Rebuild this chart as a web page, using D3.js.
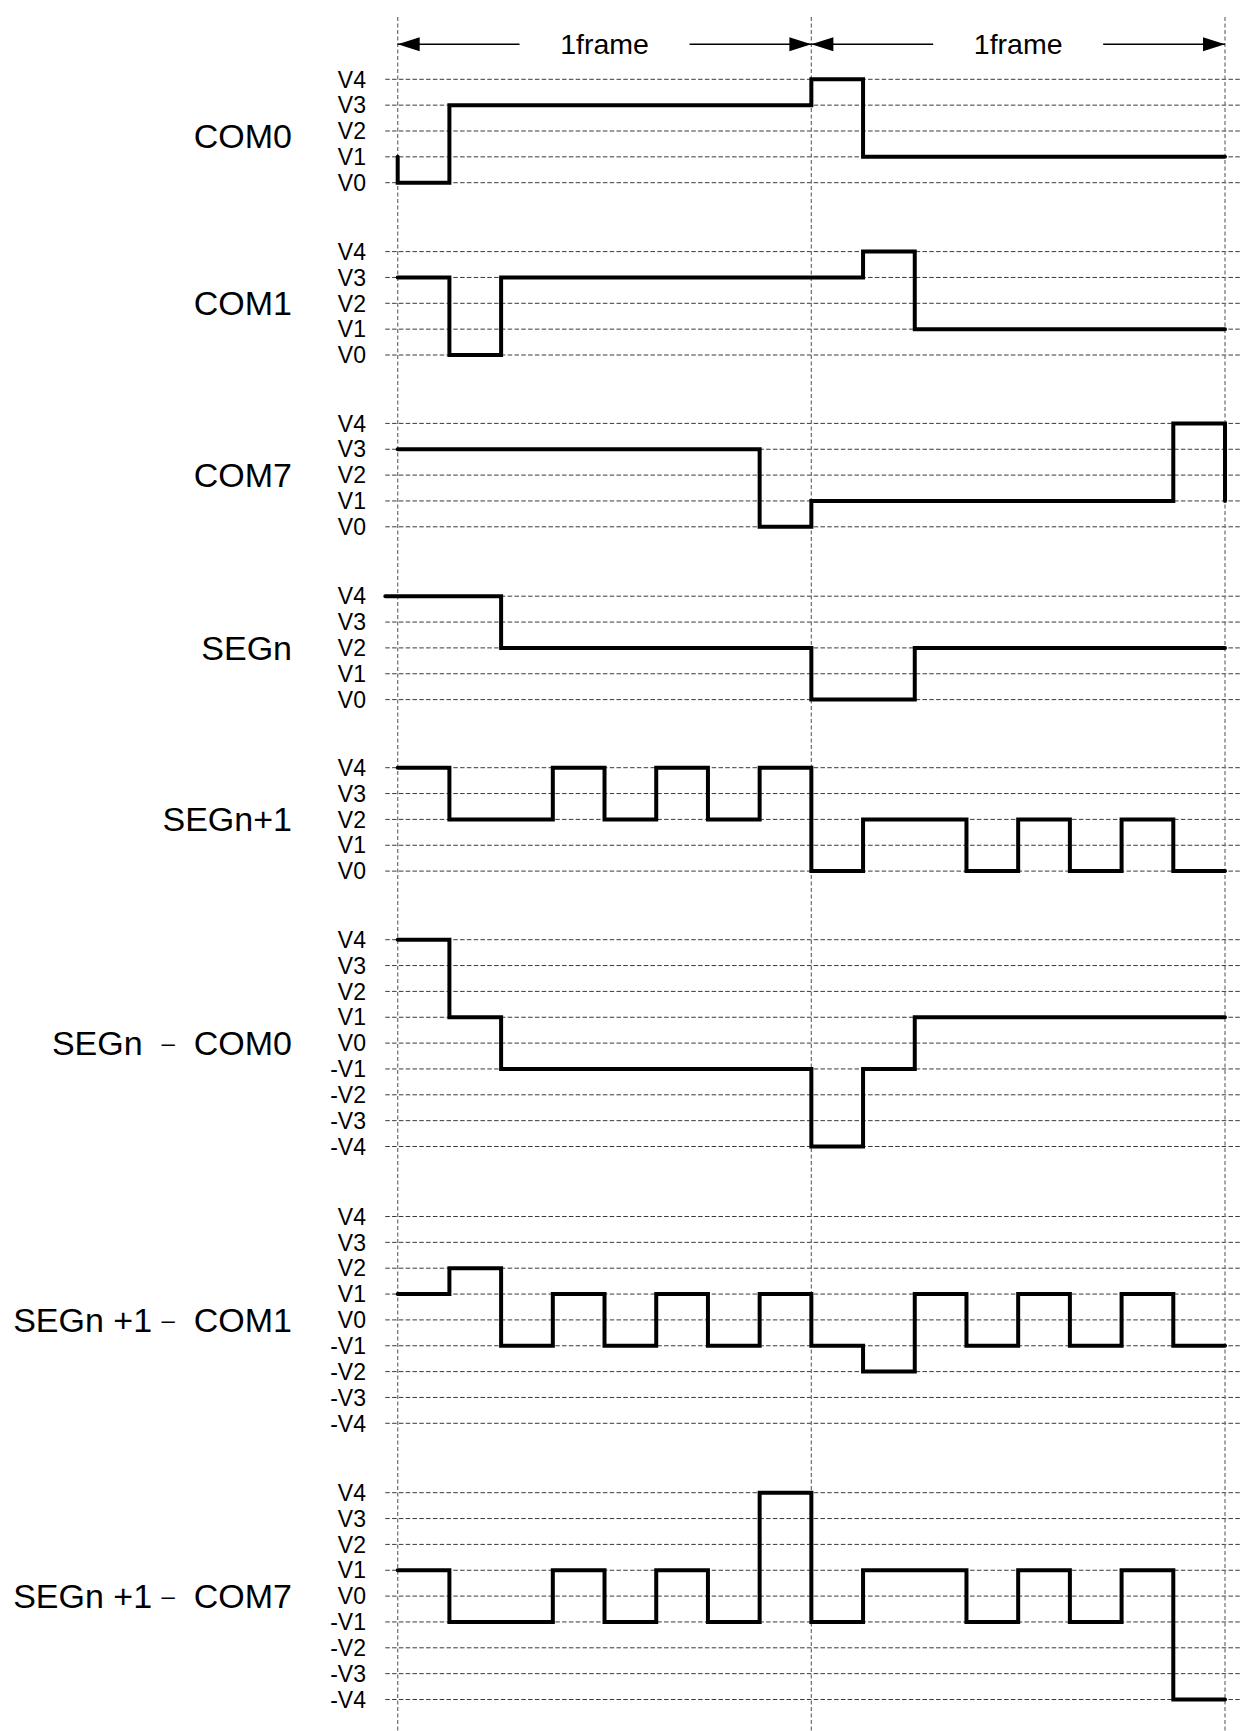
<!DOCTYPE html>
<html><head><meta charset="utf-8">
<script src="https://cdn.jsdelivr.net/npm/d3@7"></script>
<style>body{margin:0;background:#fff}svg{display:block}</style>
</head><body><svg id="c"></svg>
<script>
// ---------- data ----------
const levels5 = ["V4","V3","V2","V1","V0"];
const levels9 = ["V4","V3","V2","V1","V0","-V1","-V2","-V3","-V4"];
const levelValues5 = [4,3,2,1,0];
const levelValues9 = [4,3,2,1,0,-1,-2,-3,-4];
// signal names: [before dash, after dash] (no dash when second part is empty)
const signalNames = [["COM0",""],["COM1",""],["COM7",""],["SEGn",""],["SEGn+1",""],
  ["SEGn  ","  COM0"],["SEGn +1 ","  COM1"],["SEGn +1 ","  COM7"]];
// one value per time slot (16 slots = 2 frames of 8 slots)
const com0       = [0,3,3,3,3,3,3,3,4,1,1,1,1,1,1,1];
const com1       = [3,0,3,3,3,3,3,3,3,4,1,1,1,1,1,1];
const com7       = [3,3,3,3,3,3,3,0,1,1,1,1,1,1,1,4];
const segn       = [4,4,2,2,2,2,2,2,0,0,2,2,2,2,2,2];
const segn1      = [4,2,2,4,2,4,2,4,0,2,2,0,2,0,2,0];
const segnCom0   = [4,1,-1,-1,-1,-1,-1,-1,-4,-1,1,1,1,1,1,1];
const segn1Com1  = [1,2,-1,1,-1,1,-1,1,-1,-2,1,-1,1,-1,1,-1];
const segn1Com7  = [1,-1,-1,1,-1,1,-1,4,-1,1,1,-1,1,-1,1,-4];
const com0Before = 1;      // level just before t=0
const com7After  = 1;      // level right after t=16
const segnLeadTime = -0.24; // SEGn trace starts slightly before t=0
const frameLabels = ["1frame","1frame"];
const frameBounds = [0,8,16];
const slotCount = 16;

// ---------- layout ----------
const W = 1241, H = 1731;
const svg = d3.select("#c").attr("width", W).attr("height", H)
  .attr("viewBox", `0 0 ${W} ${H}`);
svg.append("rect").attr("width", W).attr("height", H).attr("fill", "#fff");

const x = d3.scaleLinear().domain([0, slotCount]).range([397.7, 1225]);
const gridX0 = x(segnLeadTime), gridX1 = W;
const step = 25.85;
const panelTop = [79.3, 251.6, 423.4, 596.2, 767.7, 939.7, 1216.5, 1492.7];
const labelShift = [5, 0, 0, 0, 0, 0, 0, 0];
const font = "'Liberation Sans', Arial, Helvetica, sans-serif";

const panels = [
  {vals: com0, before: com0Before},
  {vals: com1},
  {vals: com7, after: com7After},
  {vals: segn, lead: segnLeadTime},
  {vals: segn1},
  {vals: segnCom0, nine: true},
  {vals: segn1Com1, nine: true},
  {vals: segn1Com7, nine: true}
];

const gGrid = svg.append("g");
const gVert = svg.append("g");
const gWave = svg.append("g");
const gText = svg.append("g").attr("font-family", font).attr("fill", "#000");

panels.forEach((p, i) => {
  const labels = p.nine ? levels9 : levels5;
  const values = p.nine ? levelValues9 : levelValues5;
  const top = panelTop[i];
  const y = d3.scaleLinear().domain([4, values[values.length-1]])
    .range([top, top + (values.length-1)*step]);

  // gridlines
  gGrid.selectAll(null).data(values).enter().append("line")
    .attr("x1", gridX0).attr("x2", gridX1)
    .attr("y1", d => y(d)).attr("y2", d => y(d))
    .attr("stroke", "#3a3a3a").attr("stroke-width", 1)
    .attr("stroke-dasharray", "4.5,2.3");

  // level labels
  gText.selectAll(null).data(labels).enter().append("text")
    .attr("x", 366).attr("y", (d, k) => y(values[k]) + 8.2)
    .attr("text-anchor", "end").attr("font-size", 23)
    .text(d => d);

  // signal name
  const mid = p.nine ? y(0) : y(2);
  const t = gText.append("text")
    .attr("x", 292).attr("y", mid + 12 + labelShift[i])
    .attr("text-anchor", "end").attr("font-size", 34)
    .attr("xml:space", "preserve").style("white-space", "pre");
  const [a, b] = signalNames[i];
  t.append("tspan").text(a);
  if (b) {
    t.append("tspan").attr("font-size", 24).attr("dy", -4).text("–");
    t.append("tspan").attr("dy", 4).text(b);
  }

  // waveform points
  const pts = [];
  if (p.lead !== undefined) pts.push([p.lead, p.vals[0]]);
  if (p.before !== undefined) pts.push([0, p.before]);
  p.vals.forEach((v, t) => pts.push([t, v]));
  pts.push([slotCount, p.vals[p.vals.length-1]]);
  if (p.after !== undefined) pts.push([slotCount, p.after]);

  const line = d3.line().x(d => x(d[0])).y(d => y(d[1])).curve(d3.curveStepAfter);
  gWave.append("path").attr("d", line(pts))
    .attr("fill", "none").attr("stroke", "#000").attr("stroke-width", 4)
    .attr("stroke-linecap", "round").attr("stroke-linejoin", "miter");
});

// vertical frame boundaries
gVert.selectAll(null).data(frameBounds).enter().append("line")
  .attr("x1", d => x(d)).attr("x2", d => x(d))
  .attr("y1", 17).attr("y2", H)
  .attr("stroke", "#777").attr("stroke-width", 1.3)
  .attr("stroke-dasharray", "4,2.5");

// frame arrows
const ay = 44.3;
const gArrow = svg.append("g");
frameLabels.forEach((lab, i) => {
  const a = x(frameBounds[i]), b = x(frameBounds[i+1]), m = (a + b) / 2;
  gArrow.append("line").attr("x1", a).attr("x2", m - 85).attr("y1", ay).attr("y2", ay)
    .attr("stroke", "#000").attr("stroke-width", 1.5);
  gArrow.append("line").attr("x1", m + 85).attr("x2", b).attr("y1", ay).attr("y2", ay)
    .attr("stroke", "#000").attr("stroke-width", 1.5);
  gArrow.append("path").attr("d", `M${a},${ay}L${a+22},${ay-7}L${a+22},${ay+7}Z`).attr("fill", "#000");
  gArrow.append("path").attr("d", `M${b},${ay}L${b-22},${ay-7}L${b-22},${ay+7}Z`).attr("fill", "#000");
  gText.append("text").attr("x", m).attr("y", ay + 10)
    .attr("text-anchor", "middle").attr("font-size", 28.5).text(lab);
});
</script>
</body></html>
